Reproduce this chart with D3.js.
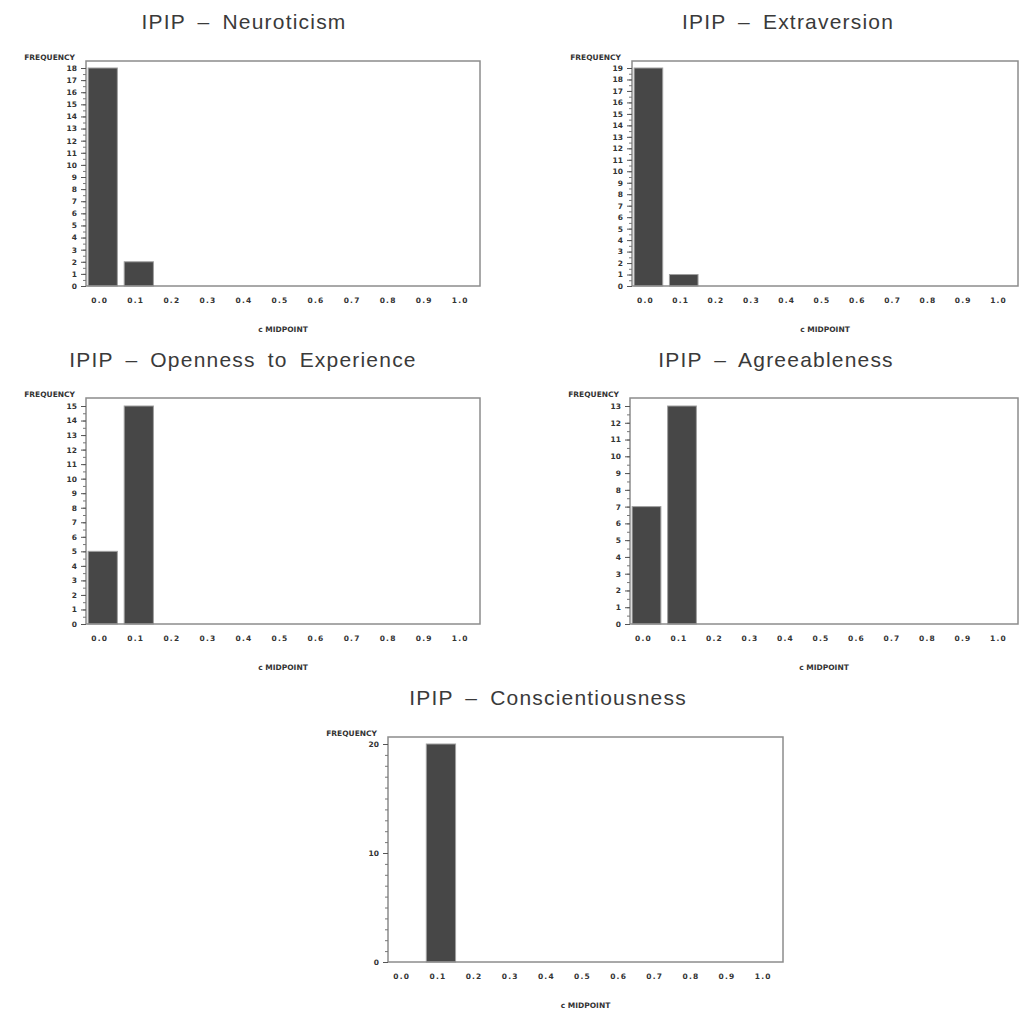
<!DOCTYPE html>
<html>
<head>
    <meta charset="utf-8" />
    <title>IPIP histograms</title>
    <script src="https://d3js.org/d3.v7.min.js"></script>
    <style>
        body { margin: 0; background: #fff; }
        .title { font-family: "Liberation Sans", Arial, sans-serif; font-size: 21px; fill: #3a3a3a; letter-spacing: 1.2px; }
        .tick-lbl { font-family: "DejaVu Sans", sans-serif; font-weight: bold; font-size: 7.5px; fill: #333; }
    </style>
</head>
<body>
    <svg width="1021" height="1015"></svg>
    <script>
        // bar midpoints on the x axis
        const midpoints = ["0.0", "0.1", "0.2", "0.3", "0.4", "0.5", "0.6", "0.7", "0.8", "0.9", "1.0"];

        const titles = [
            "IPIP \u2013 Neuroticism",
            "IPIP \u2013 Extraversion",
            "IPIP \u2013 Openness to Experience",
            "IPIP \u2013 Agreeableness",
            "IPIP \u2013 Conscientiousness"
        ];

        // frequencies per midpoint
        const neuroticism = [18, 2, 0, 0, 0, 0, 0, 0, 0, 0, 0];
        const extraversion = [19, 1, 0, 0, 0, 0, 0, 0, 0, 0, 0];
        const openness = [5, 15, 0, 0, 0, 0, 0, 0, 0, 0, 0];
        const agreeableness = [7, 13, 0, 0, 0, 0, 0, 0, 0, 0, 0];
        const conscientiousness = [0, 20, 0, 0, 0, 0, 0, 0, 0, 0, 0];

        // y axis maximum and tick steps per panel
        const yMax = [18, 19, 15, 13, 20];
        const yLabelStep = [1, 1, 1, 1, 10];
        const yMinorStep = [0.5, 0.5, 0.5, 0.5, 1];

        const series = [neuroticism, extraversion, openness, agreeableness, conscientiousness];

        // panel layout
        const panels = [
            { left: 86, right: 480, top: 61, y0: 286, yTop: 68, tx: 244, ty: 29 },
            { left: 632, right: 1018, top: 61, y0: 286, yTop: 68, tx: 788, ty: 29 },
            { left: 86, right: 480, top: 398, y0: 624, yTop: 406, tx: 243, ty: 367 },
            { left: 630, right: 1018, top: 398, y0: 624, yTop: 406, tx: 776, ty: 367 },
            { left: 388, right: 783, top: 737, y0: 962, yTop: 744, tx: 548, ty: 705 }
        ];

        const svg = d3.select("svg");

        panels.forEach((p, i) => {
            const g = svg.append("g");

            const x = d3.scaleBand()
                .domain(midpoints)
                .range([p.left, p.right])
                .paddingInner(0.19)
                .paddingOuter(0.06);

            const y = d3.scaleLinear()
                .domain([0, yMax[i]])
                .range([p.y0, p.yTop]);

            // title
            g.append("text")
                .attr("class", "title")
                .attr("x", p.tx)
                .attr("y", p.ty)
                .attr("text-anchor", "middle")
                .style("word-spacing", "5px")
                .text(titles[i]);

            // bars
            g.selectAll("rect.bar")
                .data(midpoints.map((m, j) => ({ m: m, v: series[i][j] })).filter(d => d.v > 0))
                .enter()
                .append("rect")
                .attr("class", "bar")
                .attr("x", d => x(d.m))
                .attr("y", d => y(d.v))
                .attr("width", x.bandwidth())
                .attr("height", d => y(0) - y(d.v))
                .attr("fill", "#474747")
                .attr("stroke", "#a0a0a0")
                .attr("stroke-width", 1);

            // frame
            g.append("rect")
                .attr("x", p.left)
                .attr("y", p.top)
                .attr("width", p.right - p.left)
                .attr("height", p.y0 - p.top)
                .attr("fill", "none")
                .attr("stroke", "#8c8c8c")
                .attr("stroke-width", 1.5);

            // minor ticks on y axis
            const minor = d3.range(0, yMax[i] + 0.001, yMinorStep[i]);
            g.append("g")
                .attr("transform", "translate(" + p.left + ",0)")
                .call(d3.axisLeft(y).tickValues(minor).tickSize(3).tickFormat(""))
                .call(a => a.select(".domain").remove())
                .call(a => a.selectAll("line").attr("stroke", "#777"));

            // labelled ticks on y axis
            const major = d3.range(0, yMax[i] + 0.001, yLabelStep[i]);
            g.append("g")
                .attr("transform", "translate(" + p.left + ",0)")
                .call(d3.axisLeft(y).tickValues(major).tickSize(5).tickPadding(4).tickFormat(d3.format("d")))
                .call(a => a.select(".domain").remove())
                .call(a => a.selectAll("line").attr("stroke", "#555"))
                .call(a => a.selectAll("text").attr("class", "tick-lbl").attr("font-family", null).attr("font-size", null));

            // x axis labels
            g.append("g")
                .attr("transform", "translate(-3," + p.y0 + ")")
                .call(d3.axisBottom(x).tickSize(0).tickPadding(12))
                .call(a => a.select(".domain").remove())
                .call(a => a.selectAll("text").attr("class", "tick-lbl").attr("font-family", null).attr("font-size", null).style("letter-spacing", "1.2px"));

            // axis names
            g.append("text")
                .attr("class", "tick-lbl")
                .attr("x", p.left - 11)
                .attr("y", p.top - 1)
                .attr("text-anchor", "end")
                .text("FREQUENCY");

            g.append("text")
                .attr("class", "tick-lbl")
                .attr("x", (p.left + p.right) / 2)
                .attr("y", p.y0 + 46)
                .attr("text-anchor", "middle")
                .text("c MIDPOINT");
        });
    </script>
</body>
</html>
